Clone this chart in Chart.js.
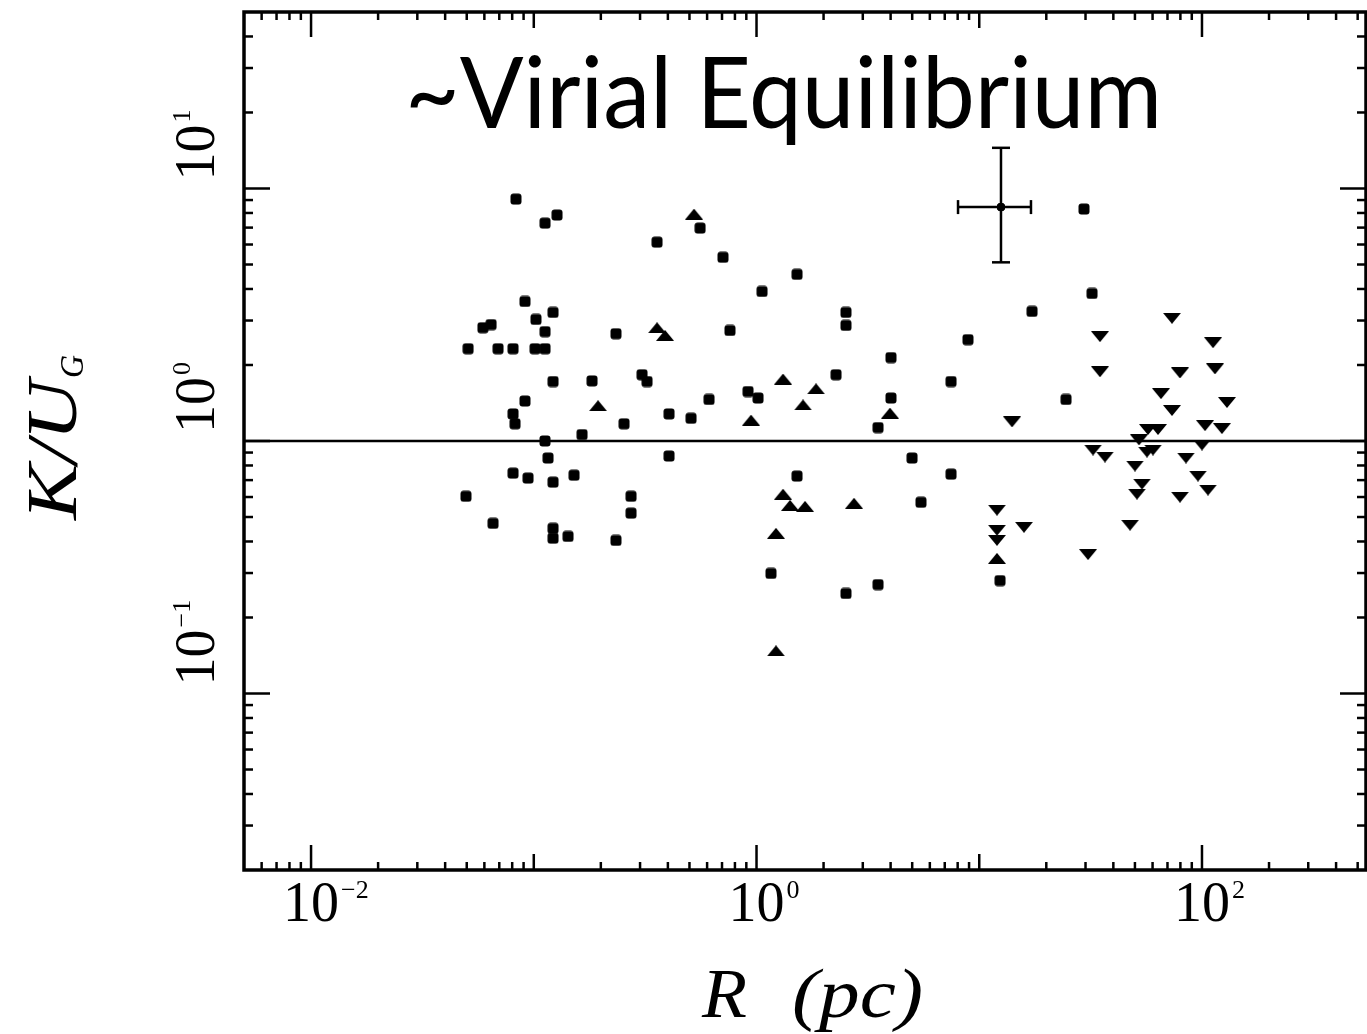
<!DOCTYPE html>
<html>
<head>
<meta charset="utf-8">
<script src="https://cdn.jsdelivr.net/npm/chart.js@4.4.1/dist/chart.umd.min.js"></script>
<style>
  html, body { margin: 0; padding: 0; background: #fff; overflow: hidden; }
  #wrap { width: 1367px; height: 1034px; position: relative; overflow: hidden; }
  canvas { display: block; }
</style>
</head>
<body>
<div id="wrap"><canvas id="virialChart"></canvas></div>
<script>
// Clouds plotted as filled squares
const squareX = [0.0832, 0.1123, 0.1272, 0.558, 0.3575, 0.707, 1.059, 1.52, 0.0913, 0.122,
  0.1023, 0.0591, 0.0643, 0.1123, 0.0507, 0.0691, 0.0807, 0.1013, 0.1123, 0.2339,
  0.760, 0.122, 0.1826, 0.3062, 0.3224, 0.0913, 0.0807, 0.0824, 0.2542, 0.4047,
  0.508, 0.612, 0.916, 1.016, 0.1123, 0.1647, 0.1159, 0.4047, 0.0807, 0.0942,
  0.122, 0.1516, 0.0496, 0.2732, 0.2732, 0.0656, 0.122, 0.122, 0.1425, 0.2339,
  2.522, 2.522, 17.26, 8.90, 4.016, 2.275, 7.468, 4.016, 3.512, 24.52,
  4.99, 1.52, 7.468, 5.476, 12.40, 1.161, 2.522, 3.512, 29.53, 32.08];
const squareY = [9.08, 7.29, 7.85, 6.97, 6.13, 5.34, 3.91, 4.57, 3.57, 3.23,
  3.03, 2.81, 2.89, 2.71, 2.32, 2.32, 2.32, 2.32, 2.32, 2.66,
  2.74, 1.72, 1.73, 1.83, 1.72, 1.44, 1.28, 1.17, 1.17, 1.28,
  1.23, 1.46, 1.57, 1.48, 1.00, 1.06, 0.856, 0.872, 0.746, 0.713,
  0.687, 0.732, 0.604, 0.604, 0.518, 0.472, 0.451, 0.412, 0.419, 0.404,
  3.23, 2.87, 3.26, 2.52, 2.14, 1.83, 1.72, 1.48, 1.13, 1.46,
  0.856, 0.726, 0.739, 0.572, 0.280, 0.299, 0.249, 0.270, 8.29, 3.84];

// Upward triangles
const triUpX = [0.524, 0.3575, 0.3883, 0.1943, 0.945, 1.315, 1.850, 1.617, 3.974, 1.315,
  1.414, 1.651, 2.741, 1.223, 12.01, 1.223];
const triUpY = [7.92, 2.81, 2.62, 1.38, 1.21, 1.76, 1.61, 1.39, 1.29, 0.616,
  0.556, 0.551, 0.567, 0.431, 0.343, 0.1476];

// Downward triangles
const triDownX = [14.03, 12.01, 12.01, 12.01, 15.88, 73.34, 34.84, 112.1, 34.84, 79.63,
  114.4, 65.46, 129.5, 73.34, 103.2, 122.9, 57.22, 63.46, 52.14, 100,
  32.42, 36.69, 56.63, 60.26, 50.02, 84.77, 95.94, 53.78, 51.07, 106.4,
  79.63, 47.52, 30.78];
const triDownY = [1.19, 0.532, 0.443, 0.404, 0.455, 3.06, 2.59, 2.45, 1.88, 1.86,
  1.93, 1.54, 1.42, 1.32, 1.15, 1.12, 1.11, 1.11, 1.01, 0.964,
  0.921, 0.864, 0.904, 0.921, 0.796, 0.856, 0.726, 0.675, 0.616, 0.639,
  0.599, 0.464, 0.355];

// Typical error bar
const errX = [12.52];
const errY = [8.44];
const errXLo = [8.03];
const errXHi = [17.07];
const errYLo = [5.10];
const errYHi = [14.49];

// Virial equilibrium line K/U_G = 1
const lineX = [0.005, 545];
const lineY = [1, 1];

// Axis ranges and labelled decades
const xRange = [0.005, 545];
const yRange = [0.02, 50];
const xTickExps = [-2, 0, 2];
const yTickExps = [-1, 0, 1];

const toPoints = (xs, ys) => xs.map((v, i) => ({ x: v, y: ys[i] }));

// small marker images
function marker(kind) {
  const c = document.createElement('canvas');
  const g = c.getContext('2d');
  g.fillStyle = '#000';
  if (kind === 'square') {
    c.width = 12; c.height = 12;
    g.fillStyle = '#000';
    g.beginPath();
    g.roundRect(0.5, 0.5, 11, 11, 3);
    g.fill();
  } else {
    c.width = 18; c.height = 11;
    g.fillStyle = '#000';
    g.beginPath();
    if (kind === 'up') {
      g.moveTo(9, 0); g.lineTo(18, 11); g.lineTo(0, 11);
    } else {
      g.moveTo(0, 0); g.lineTo(18, 0); g.lineTo(9, 11);
    }
    g.closePath();
    g.fill();
  }
  return c;
}

// draw text squeezed/stretched to a given width
function fitText(ctx, text, x, y, width) {
  const w = ctx.measureText(text).width;
  ctx.save();
  ctx.translate(x, y);
  ctx.scale(width / w, 1);
  ctx.fillText(text, 0, 0);
  ctx.restore();
}

const framePlugin = {
  id: 'framePlugin',
  afterDatasetsDraw(chart) {
    const { ctx, chartArea: a, scales: { x, y } } = chart;
    ctx.save();
    ctx.strokeStyle = '#000';
    ctx.fillStyle = '#000';

    const seg = (x1, y1, x2, y2) => {
      ctx.beginPath(); ctx.moveTo(x1, y1); ctx.lineTo(x2, y2); ctx.stroke();
    };

    // error bar
    ctx.lineWidth = 2.5;
    errX.forEach((v, i) => {
      const cx = x.getPixelForValue(v), cy = y.getPixelForValue(errY[i]);
      const xl = x.getPixelForValue(errXLo[i]), xh = x.getPixelForValue(errXHi[i]);
      const yl = y.getPixelForValue(errYLo[i]), yh = y.getPixelForValue(errYHi[i]);
      seg(xl, cy, xh, cy);
      seg(cx, yl, cx, yh);
      seg(xl, cy - 7, xl, cy + 7);
      seg(xh, cy - 7, xh, cy + 7);
      seg(cx - 9, yh, cx + 9, yh);
      seg(cx - 9, yl, cx + 9, yl);
    });

    // frame
    ctx.lineWidth = 3.5;
    ctx.strokeRect(a.left, a.top, a.right - a.left, a.bottom - a.top);

    // ticks on all four sides, pointing in
    ctx.lineWidth = 2.5;
    for (let d = -3; d <= 2; d++) {
      for (let m = 1; m <= 9; m++) {
        const v = m * Math.pow(10, d);
        if (v <= xRange[0] || v >= xRange[1]) continue;
        const px = x.getPixelForValue(v);
        const len = m === 1 ? (d % 2 === 0 ? 25 : 16) : 8;
        seg(px, a.bottom, px, a.bottom - len);
        seg(px, a.top, px, a.top + len);
      }
    }
    for (let d = -2; d <= 1; d++) {
      for (let m = 1; m <= 9; m++) {
        const v = m * Math.pow(10, d);
        if (v <= yRange[0] || v >= yRange[1]) continue;
        const py = y.getPixelForValue(v);
        const len = m === 1 ? 26 : 9;
        seg(a.left, py, a.left + len, py);
        seg(a.right, py, a.right - len, py);
      }
    }

    // x tick labels
    ctx.textBaseline = 'alphabetic';
    xTickExps.forEach(e => {
      const px = x.getPixelForValue(Math.pow(10, e));
      ctx.font = '56px "Liberation Serif"';
      ctx.textAlign = 'center';
      ctx.fillText('10', px, 921);
      const w = ctx.measureText('10').width;
      ctx.font = '26px "Liberation Serif"';
      ctx.textAlign = 'left';
      ctx.fillText(e < 0 ? '\u2212' + (-e) : String(e), px + w / 2 + 2, 898);
    });

    // y tick labels, rotated
    yTickExps.forEach(e => {
      const py = y.getPixelForValue(Math.pow(10, e));
      ctx.save();
      ctx.translate(214, py - 8);
      ctx.rotate(-Math.PI / 2);
      ctx.font = '56px "Liberation Serif"';
      ctx.textAlign = 'left';
      ctx.fillText('10', 0, 0);
      const w = ctx.measureText('10').width;
      ctx.font = '26px "Liberation Serif"';
      ctx.fillText(e < 0 ? '\u2212' + (-e) : String(e), w + 2, -24);
      ctx.restore();
    });

    // axis titles
    ctx.textAlign = 'left';
    ctx.font = 'italic 70px "Liberation Serif"';
    fitText(ctx, 'R', 702, 1017, 45);
    fitText(ctx, '(pc)', 792, 1017, 131);

    ctx.save();
    ctx.translate(76, 520);
    ctx.rotate(-Math.PI / 2);
    ctx.font = 'italic 72px "Liberation Serif"';
    fitText(ctx, 'K/U', 0, 0, 140);
    ctx.font = 'italic 34px "Liberation Serif"';
    fitText(ctx, 'G', 142, 7, 23);
    ctx.restore();

    // annotation
    ctx.font = '98px Lato';
    fitText(ctx, '~Virial Equilibrium', 405, 128, 757);

    ctx.restore();
  }
};

window.addEventListener('DOMContentLoaded', () => {
  const ctx = document.getElementById('virialChart');
  new Chart(ctx, {
    type: 'scatter',
    data: {
      datasets: [
        {
          type: 'line',
          label: 'K/UG = 1',
          data: toPoints(lineX, lineY),
          borderColor: '#000',
          borderWidth: 2.5,
          pointRadius: 0,
          fill: false
        },
        {
          label: 'squares',
          data: toPoints(squareX, squareY),
          pointStyle: marker('square'),
          pointRadius: 6
        },
        {
          label: 'up',
          data: toPoints(triUpX, triUpY),
          pointStyle: marker('up'),
          pointRadius: 6
        },
        {
          label: 'down',
          data: toPoints(triDownX, triDownY),
          pointStyle: marker('down'),
          pointRadius: 6
        },
        {
          label: 'error',
          data: toPoints(errX, errY),
          pointStyle: 'circle',
          pointRadius: 4,
          backgroundColor: '#000',
          borderColor: '#000'
        }
      ]
    },
    options: {
      responsive: true,
      maintainAspectRatio: false,
      animation: false,
      events: [],
      layout: { autoPadding: false, padding: { left: 244, top: 12, right: 1, bottom: 164 } },
      plugins: { legend: { display: false }, tooltip: { enabled: false } },
      scales: {
        x: { type: 'logarithmic', min: xRange[0], max: xRange[1], display: false },
        y: { type: 'logarithmic', min: yRange[0], max: yRange[1], display: false }
      }
    },
    plugins: [framePlugin]
  });
});
</script>
</body>
</html>
